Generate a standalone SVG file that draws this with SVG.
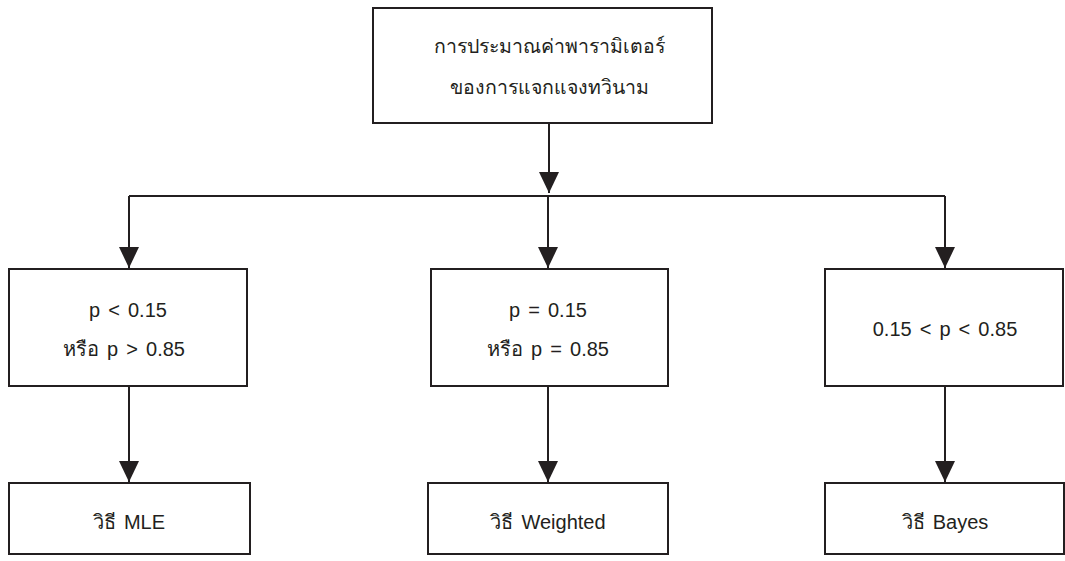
<svg xmlns="http://www.w3.org/2000/svg" width="1065" height="561" viewBox="0 0 1065 561">
<style>
.box{fill:#fff;stroke:#231f20;stroke-width:2}
.ln{fill:none;stroke:#231f20;stroke-width:2}
text{font-family:"Liberation Sans","Noto Sans",sans-serif;font-size:20px;word-spacing:2.5px;fill:#231f20;text-anchor:middle}
.th{font-size:19.5px}
</style>
<defs>
<marker id="ah" markerUnits="userSpaceOnUse" markerWidth="22" markerHeight="20" refX="21" refY="10" orient="auto">
<path d="M0,0 L21,10 L0,20 Z" fill="#231f20"/>
</marker>
</defs>
<g id="connectors">
<path class="ln" d="M549,123 V193" marker-end="url(#ah)"/>
<path class="ln" d="M129,196 H945"/>
<path class="ln" d="M129,196 V268" marker-end="url(#ah)"/>
<path class="ln" d="M548,196 V268" marker-end="url(#ah)"/>
<path class="ln" d="M945,196 V268" marker-end="url(#ah)"/>
<path class="ln" d="M129,386 V482" marker-end="url(#ah)"/>
<path class="ln" d="M548,386 V482" marker-end="url(#ah)"/>
<path class="ln" d="M945,386 V482" marker-end="url(#ah)"/>
</g>
<g id="root">
<rect class="box" x="373" y="8" width="339" height="115"/>
<text class="th" x="549" y="53">การประมาณค่าพารามิเตอร์</text>
<text class="th" x="549" y="94">ของการแจกแจงทวินาม</text>
</g>
<g id="cond1">
<rect class="box" x="9" y="269" width="238" height="117"/>
<text x="128" y="317">p &lt; 0.15</text>
<text x="124" y="356">หรือ p &gt; 0.85</text>
</g>
<g id="cond2">
<rect class="box" x="431" y="269" width="237" height="117"/>
<text x="548" y="317">p = 0.15</text>
<text x="548" y="356">หรือ p = 0.85</text>
</g>
<g id="cond3">
<rect class="box" x="825" y="269" width="238" height="117"/>
<text x="945" y="336">0.15 &lt; p &lt; 0.85</text>
</g>
<g id="mle">
<rect class="box" x="9" y="483" width="241" height="71"/>
<text x="129" y="529">วิธี MLE</text>
</g>
<g id="weighted">
<rect class="box" x="428" y="483" width="240" height="71"/>
<text x="548" y="529">วิธี Weighted</text>
</g>
<g id="bayes">
<rect class="box" x="825" y="483" width="239" height="71"/>
<text x="945" y="529">วิธี Bayes</text>
</g>
</svg>
